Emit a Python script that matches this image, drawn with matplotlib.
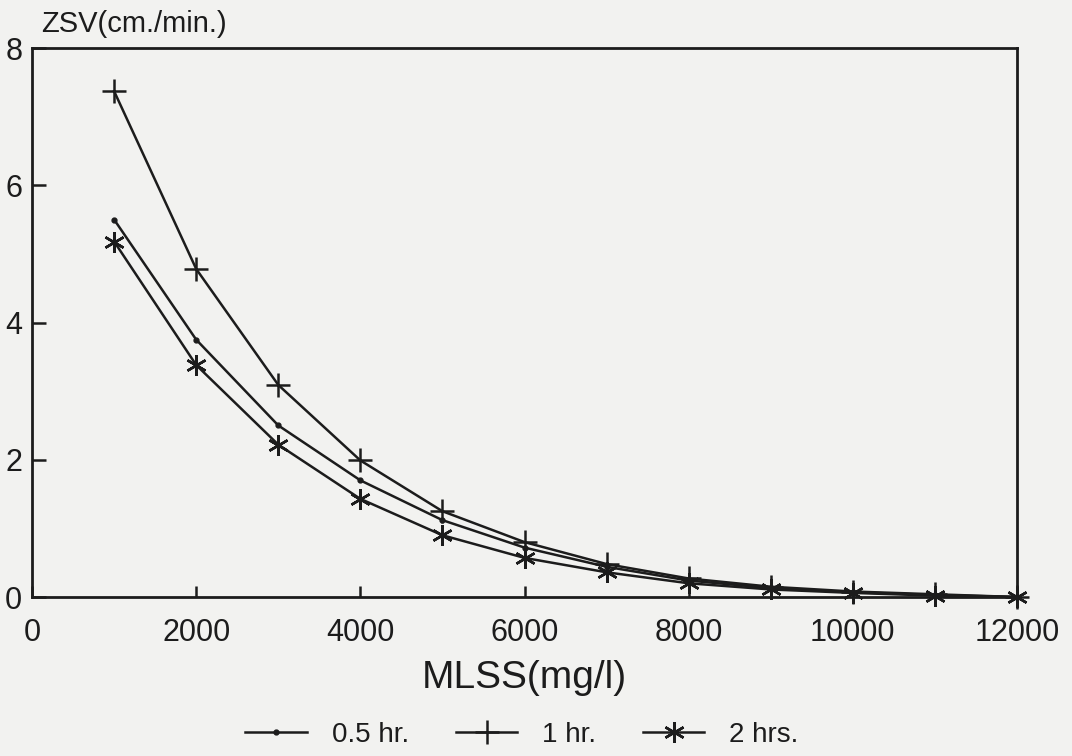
import matplotlib
matplotlib.use("Agg")
import matplotlib.pyplot as plt

plt.rcParams['font.family'] = ['Liberation Sans', 'DejaVu Sans']

# MLSS (mg/l) and zone settling velocity (cm./min.) per settling time
mlss = [1000, 2000, 3000, 4000, 5000, 6000, 7000, 8000, 9000, 10000, 11000, 12000]
zsv_05hr = [5.50, 3.75, 2.50, 1.70, 1.12, 0.72, 0.44, 0.24, 0.13, 0.07, 0.03, 0.0]
zsv_1hr = [7.37, 4.78, 3.09, 1.99, 1.25, 0.80, 0.48, 0.27, 0.15, 0.08, 0.04, 0.0]
zsv_2hr = [5.18, 3.38, 2.22, 1.43, 0.90, 0.57, 0.36, 0.20, 0.11, 0.06, 0.02, 0.0]

x_ticks = [0, 2000, 4000, 6000, 8000, 10000, 12000]
y_ticks = [0, 2, 4, 6, 8]

ink = '#1c1c1c'
paper = '#f2f2f0'

fig = plt.figure(figsize=(10.72, 7.56), dpi=100, facecolor=paper)
ax = fig.add_axes([0.0299, 0.2103, 0.9188, 0.7262])
ax.set_facecolor(paper)

asterisk = (6, 2, 0)
ax.plot(mlss, zsv_05hr, color=ink, lw=1.8, marker='o', ms=3.5,
        label='0.5 hr.', clip_on=False)
ax.plot(mlss, zsv_1hr, color=ink, lw=1.8, marker='+', ms=17, mew=1.8,
        label='1 hr.', clip_on=False)
ax.plot(mlss, zsv_2hr, color=ink, lw=1.8, marker=asterisk, ms=15, mew=1.8,
        label='2 hrs.', clip_on=False)

ax.set_xlim(0, 12000)
ax.set_ylim(0, 8)
ax.set_xticks(x_ticks)
ax.set_yticks(y_ticks)
ax.set_xticklabels([str(v) for v in x_ticks])
ax.set_yticklabels([str(v) for v in y_ticks])

for s in ax.spines.values():
    s.set_linewidth(2.0)
    s.set_color(ink)

ax.tick_params(axis='x', direction='in', length=8, width=1.8, pad=15,
               labelsize=22, colors=ink, top=False)
ax.tick_params(axis='y', direction='in', length=10, width=1.8, pad=7,
               labelsize=22, colors=ink, right=False)

ax.set_xlabel('MLSS(mg/l)', fontsize=28, color=ink, labelpad=9)
ax.text(0.009, 1.018, 'ZSV(cm./min.)', transform=ax.transAxes, fontsize=21,
        color=ink, ha='left', va='bottom')

fig.legend(loc='center', bbox_to_anchor=(0.487, 0.028), ncol=3, frameon=False,
           fontsize=20, handlelength=2.2, handletextpad=0.9, columnspacing=1.7,
           numpoints=1, labelcolor=ink)

fig.savefig('out.png', dpi=100, facecolor=paper)
